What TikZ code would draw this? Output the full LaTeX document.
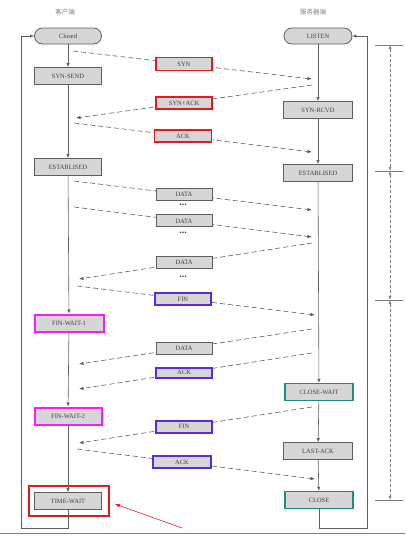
\documentclass[tikz,border=0pt]{standalone}
\usepackage{fontspec}
\setmainfont{Liberation Serif}
\newfontfamily\cjk{Noto Sans CJK SC}
\usetikzlibrary{arrows.meta}

\definecolor{boxgray}{HTML}{D6D6D6}
\definecolor{linegray}{HTML}{5E5E5E}
\definecolor{txtgray}{HTML}{404040}
\definecolor{synred}{HTML}{E41B1B}
\definecolor{finpurple}{HTML}{5B2BD9}
\definecolor{waitpink}{HTML}{F81CF8}
\definecolor{closeteal}{HTML}{218A80}

\begin{document}
\begin{tikzpicture}[x=1pt, y=-1pt, font=\fontsize{6.5}{7}\selectfont, text=txtgray,
  state/.style={draw=linegray, fill=boxgray, solid, line width=0.8pt, minimum width=67pt, minimum height=17pt, inner sep=1pt},
  msgbox/.style={draw=linegray, fill=boxgray, solid, line width=0.8pt, minimum width=56pt, minimum height=12pt, inner sep=1pt},
  redbox/.style={draw=synred, line width=1.6pt},
  purplebox/.style={draw=finpurple, line width=1.6pt},
  pinkbox/.style={draw=waitpink, line width=2pt},
  tealbox/.style={draw=closeteal, line width=1.4pt},
  flow/.style={draw=linegray, line width=0.6pt, -{Latex[length=4pt,width=3.5pt]}},
  msgline/.style={draw=linegray, line width=0.6pt, dash pattern=on 5pt off 3pt, -{Latex[length=4.5pt,width=3.5pt]}},
  tick/.style={draw=linegray!80, line width=1pt},
  span/.style={draw=linegray!80, line width=0.6pt, dash pattern=on 3pt off 2pt, {Latex[length=4pt,width=3pt]}-{Latex[length=4pt,width=3pt]}}]
\useasboundingbox (0,0) rectangle (405,541);

% headers
\node[font=\cjk\fontsize{6.5}{7}\selectfont, text=gray] (client) at (65,12) {客户端};
\node[font=\cjk\fontsize{6.5}{7}\selectfont, text=gray] (server) at (313,12) {服务器端};

% client side
\node[state, rounded corners=8pt, minimum height=16pt] (closed) at (68,36) {Closed};
\node[state] (synsend) at (68,76) {SYN-SEND};
\node[state] (cest) at (68,167) {ESTABLISED};
\node[state, pinkbox, minimum width=69pt] (fw1) at (69,323) {FIN-WAIT-1};
\node[state, pinkbox] (fw2) at (68,416) {FIN-WAIT-2};
\node[draw=synred, line width=1.6pt, minimum width=80pt, minimum height=30pt] (twframe) at (69,501) {};
\node[state] (timewait) at (68,501) {TIME-WAIT};

% server side
\node[state, rounded corners=8pt, minimum height=16pt, minimum width=68pt] (listen) at (318,36) {LISTEN};
\node[state, minimum width=69pt] (synrcvd) at (318,110) {SYN-RCVD};
\node[state, minimum width=69pt] (sest) at (318,173) {ESTABLISED};
\node[state, tealbox, minimum width=68pt] (closewait) at (319,392) {CLOSE-WAIT};
\node[state, minimum width=69pt] (lastack) at (318,451) {LAST-ACK};
\node[state, tealbox, minimum width=68pt] (close) at (319,500) {CLOSE};

% state flow
\draw[flow] (closed) -- (synsend);
\draw[flow] (synsend) -- (cest);
\draw[flow] (cest) -- (fw1);
\draw[flow] (fw1) -- (fw2);
\draw[flow] (fw2) -- (timewait);
\draw[flow] (listen) -- (synrcvd);
\draw[flow] (synrcvd) -- (sest);
\draw[flow] (sest) -- (closewait);
\draw[flow] (closewait) -- (lastack);
\draw[flow] (lastack) -- (close);

% back loops
\coordinate (cbot) at (68,528);
\coordinate (cleft) at (21,528);
\coordinate (cup) at (21,36);
\coordinate (sbot) at (319,528);
\coordinate (sright) at (367,528);
\coordinate (sup) at (367,36);
\draw[flow] (timewait) -- (cbot) -- (cleft) -- (cup) -- (closed);
\draw[flow] (close) -- (sbot) -- (sright) -- (sup) -- (listen);

% message end points
\coordinate (c1) at (73,51);   \coordinate (s1) at (312,79);
\coordinate (s2) at (312,85);  \coordinate (c2) at (76,118);
\coordinate (c3) at (74,123);  \coordinate (s3) at (312,152);
\coordinate (c4) at (74,181);  \coordinate (s4) at (312,210);
\coordinate (c5) at (74,207);  \coordinate (s5) at (312,237);
\coordinate (s6) at (312,243); \coordinate (c6) at (79,279);
\coordinate (c7) at (77,286);  \coordinate (s7) at (315,315);
\coordinate (s8) at (312,329); \coordinate (c8) at (79,364);
\coordinate (s9) at (312,353); \coordinate (c9) at (79,389);
\coordinate (s10) at (312,407); \coordinate (c10) at (79,443);
\coordinate (c11) at (77,449); \coordinate (s11) at (315,479);

% messages
\draw[msgline] (c1) -- node[pos=.464, msgbox, redbox, minimum height=13pt] (syn) {SYN} (s1);
\draw[msgline] (s2) -- node[pos=.542, msgbox, redbox] (synack) {SYN+ACK} (c2);
\draw[msgline] (c3) -- node[pos=.458, msgbox, redbox, minimum width=57pt] (ack) {ACK} (s3);
\draw[msgline] (c4) -- node[pos=.462, msgbox] (data1) {DATA} (s4);
\draw[msgline] (c5) -- node[pos=.462, msgbox] (data2) {DATA} (s5);
\draw[msgline] (s6) -- node[pos=.549, msgbox] (data3) {DATA} (c6);
\draw[msgline] (c7) -- node[pos=.445, msgbox, purplebox] (fin) {FIN} (s7);
\draw[msgline] (s8) -- node[pos=.549, msgbox] (data4) {DATA} (c8);
\draw[msgline] (s9) -- node[pos=.549, msgbox, purplebox, minimum height=10pt] (ack2) {ACK} (c9);
\draw[msgline] (s10) -- node[pos=.549, msgbox, purplebox] (fin2) {FIN} (c10);
\draw[msgline] (c11) -- node[pos=.441, msgbox, purplebox, minimum width=58pt] (ack3) {ACK} (s11);

% dots
\node[font=\bfseries\fontsize{10}{10}\selectfont, inner sep=0pt] (dots1) at (183,205) {...};
\node[font=\bfseries\fontsize{10}{10}\selectfont, inner sep=0pt] (dots2) at (183,233) {...};
\node[font=\bfseries\fontsize{10}{10}\selectfont, inner sep=0pt] (dots3) at (183,277) {...};

% pointer to TIME-WAIT
\coordinate (ptr) at (182,528);
\coordinate (ptrtip) at (115,504);
\draw[draw=synred, line width=0.6pt, -{Latex[length=5pt,width=4pt]}] (ptr) -- (ptrtip);

% phase ruler
\coordinate (t1) at (390,45);
\coordinate (t2) at (390,171);
\coordinate (t3) at (390,300);
\coordinate (t4) at (390,500);
\foreach \t in {t1,t2,t3,t4}
  \draw[tick] ([xshift=-15pt]\t) -- ([xshift=13pt]\t);
\draw[span] (t1) -- (t2);
\draw[span] (t2) -- (t3);
\draw[span] (t3) -- (t4);

% page edge
\draw[draw=linegray!80, line width=0.8pt] (0,533) -- (405,533);
\end{tikzpicture}
\end{document}
